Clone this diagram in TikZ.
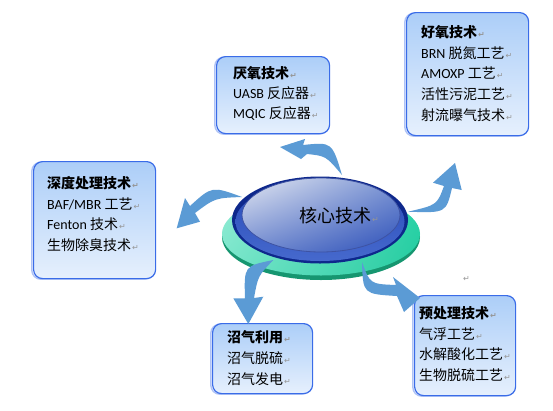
\documentclass[tikz,border=0pt]{standalone}
\usepackage{fontspec}
\usetikzlibrary{shadings}
\setmainfont{Carlito}
\newfontfamily\cjk{Noto Sans CJK SC}
\newfontfamily\dejavu{DejaVu Sans}
\definecolor{boxtop}{RGB}{172,206,248}
\definecolor{boxbot}{RGB}{230,240,253}
\definecolor{boxline}{RGB}{58,108,232}
\definecolor{arrowc}{RGB}{91,155,213}
\definecolor{tealL}{RGB}{150,236,214}
\definecolor{tealR}{RGB}{40,212,168}
\definecolor{tealD}{RGB}{22,150,112}
\definecolor{navy}{RGB}{14,40,140}
\definecolor{bandA}{RGB}{40,75,185}
\definecolor{bandB}{RGB}{70,105,205}
\definecolor{inUL}{RGB}{228,232,242}
\definecolor{inUR}{RGB}{125,150,212}
\definecolor{inLL}{RGB}{115,140,208}
\definecolor{inLR}{RGB}{45,80,185}
\definecolor{markgray}{RGB}{150,150,150}
\newcommand\pmark{\hspace{1pt}{\fontsize{8}{8}\selectfont\dejavu\color{markgray}↵}}
\tikzset{
  infobox/.style={rectangle, rounded corners=9pt, draw=boxline, line width=1.2pt,
    top color=boxtop, bottom color=boxbot, anchor=north west, inner sep=0pt},
  boxshadow/.style={rounded corners=9pt, draw=boxline!80, line width=1.4pt, opacity=0.5},
  ln/.style={anchor=base west, inner sep=0pt, font=\fontsize{14}{16}\selectfont},
  arrowshape/.style={fill=arrowc}
}
\begin{document}
\begin{tikzpicture}[x=1pt,y=-1pt]
\useasboundingbox (0,0) rectangle (553,410);
\fill[white] (0,0) rectangle (553,410);

% ---- boxes ----
\draw[boxshadow] (214.8,57.2) rectangle (327.8,134.2);
\node[infobox, minimum width=113pt, minimum height=77pt] (b1) at (216,56) {};
\draw[boxshadow] (404.8,13.2) rectangle (526.8,136.2);
\node[infobox, minimum width=122pt, minimum height=123pt] (b2) at (406,12) {};
\draw[boxshadow] (31.8,162.2) rectangle (153.8,279.2);
\node[infobox, minimum width=122pt, minimum height=117pt] (b3) at (33,161) {};
\draw[boxshadow] (210.8,324.2) rectangle (310.8,394.2);
\node[infobox, minimum width=100pt, minimum height=70pt] (b4) at (212,323) {};
\draw[boxshadow] (412.8,296.2) rectangle (513.8,396.2);
\node[infobox, minimum width=101pt, minimum height=100pt] (b5) at (414,295) {};

% ---- box texts ----
\node[ln] (b1a) at (233,78.3) {\cjk\bfseries 厌氧技术\pmark};
\node[ln] (b1b) at (233,98.3) {UASB {\cjk 反应器}\pmark};
\node[ln] (b1c) at (233,118.3) {MQIC {\cjk 反应器}\pmark};

\node[ln] (b2a) at (421,37.3) {\cjk\bfseries 好氧技术\pmark};
\node[ln] (b2b) at (421,58.0) {BRN {\cjk 脱氮工艺}\pmark};
\node[ln] (b2c) at (421,78.7) {AMOXP {\cjk 工艺}\pmark};
\node[ln] (b2d) at (421,99.4) {\cjk 活性污泥工艺\pmark};
\node[ln] (b2e) at (421,120.1) {\cjk 射流曝气技术\pmark};

\node[ln] (b3a) at (47,188.3) {\cjk\bfseries 深度处理技术\pmark};
\node[ln] (b3b) at (47,209.0) {BAF/MBR {\cjk 工艺}\pmark};
\node[ln] (b3c) at (47,229.7) {Fenton {\cjk 技术}\pmark};
\node[ln] (b3d) at (47,250.4) {\cjk 生物除臭技术\pmark};

\node[ln] (b4a) at (227,342.3) {\cjk\bfseries 沼气利用\pmark};
\node[ln] (b4b) at (227,363.3) {\cjk 沼气脱硫\pmark};
\node[ln] (b4c) at (227,384.3) {\cjk 沼气发电\pmark};

\node[ln] (b5a) at (419,318.3) {\cjk\bfseries 预处理技术\pmark};
\node[ln] (b5b) at (419,339.0) {\cjk 气浮工艺\pmark};
\node[ln] (b5c) at (419,359.7) {\cjk 水解酸化工艺\pmark};
\node[ln] (b5d) at (419,380.4) {\cjk 生物脱硫工艺\pmark};

\node[inner sep=0pt] (lonemark) at (466,279) {\pmark};

% ---- central disc ----
\fill[tealD] (321,237) ellipse [x radius=99, y radius=43];
\shade[upper left=tealL, upper right=tealR, lower left=tealL!70!tealR, lower right=tealR!85!tealD] (321,234) ellipse [x radius=99, y radius=41.5];
\fill[navy] (320,220) ellipse [x radius=88, y radius=43.5];
\shade[top color=bandA, bottom color=bandB] (320,221.5) ellipse [x radius=84.5, y radius=39.5];
\shade[upper left=inUL, upper right=inUR, lower left=inLL, lower right=inLR, draw=navy!80, line width=0.8pt] (321,215) ellipse [x radius=79, y radius=37];
\node[inner sep=0pt, anchor=west, font=\fontsize{18}{20}\selectfont] (core) at (299,216) {\cjk 核心技术\pmark};

% ---- arrows ----
\coordinate (a1s) at (342,175);
\fill[arrowshape] (a1s) .. controls (332,142) .. (303,145) -- (305,139) -- (280,147) -- (301,159) -- (307,154) .. controls (326,156) .. (a1s) -- cycle;
\coordinate (a2s) at (408,211.7);
\fill[arrowshape] (a2s) .. controls (446,213) .. (452,188) -- (461.7,190) -- (455,163) -- (433,182.7) -- (444,186) .. controls (437,205) .. (a2s) -- cycle;
\coordinate (a3s) at (242,197);
\fill[arrowshape] (a3s) .. controls (212,186) .. (190,206) -- (185,198) -- (176.7,228.3) -- (200,221.7) -- (195,213) .. controls (215,198) .. (a3s) -- cycle;
\coordinate (a4s) at (273.3,260);
\fill[arrowshape] (a4s) .. controls (244,266) .. (245,298.5) -- (233.3,298.3) -- (248.3,324) -- (263.3,296.7) -- (254,298) .. controls (258,276) .. (a4s) -- cycle;
\coordinate (a5s) at (362,262);
\fill[arrowshape] (a5s) .. controls (370,284) .. (396,285) -- (393,277) -- (420,298) -- (404,312) -- (397,296) .. controls (363,294) .. (a5s) -- cycle;
\end{tikzpicture}
\end{document}
